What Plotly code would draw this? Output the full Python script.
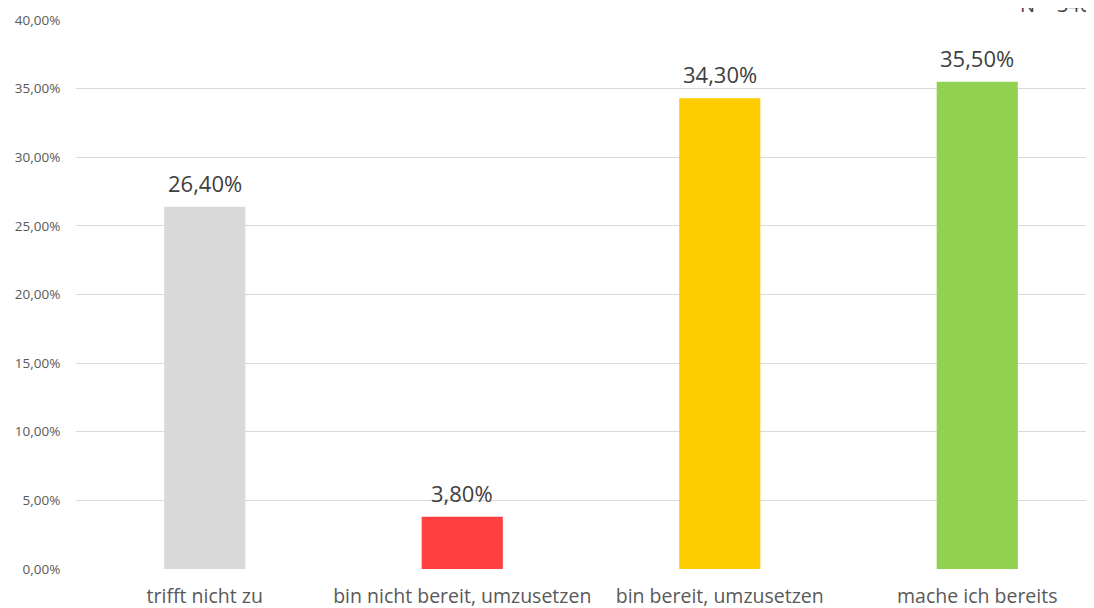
import plotly.graph_objects as go

categories = ["trifft nicht zu", "bin nicht bereit, umzusetzen", "bin bereit, umzusetzen", "mache ich bereits"]
values = [26.40, 3.80, 34.30, 35.50]
colors = ["#D9D9D9", "#FF4040", "#FFCC00", "#92D050"]
tick_vals = [0, 5, 10, 15, 20, 25, 30, 35, 40]
tick_text = ["0,00%", "5,00%", "10,00%", "15,00%", "20,00%", "25,00%", "30,00%", "35,00%", "40,00%"]
label_text = [f"{v:.2f}%".replace(".", ",") for v in values]
note_text = "N = 346"

FONT = "Open Sans, Liberation Sans, sans-serif"
xpos = list(range(len(categories)))

fig = go.Figure()
fig.add_trace(go.Bar(
    x=xpos,
    y=values,
    marker=dict(color=colors, line=dict(width=0)),
    width=0.315,
    hoverinfo="skip",
))

annotations = [
    dict(
        x=xi, y=v, xref="x", yref="y", text=t,
        showarrow=False, xanchor="center", yanchor="middle", yshift=24,
        font=dict(size=22, color="#404040", family=FONT),
    )
    for xi, v, t in zip(xpos, values, label_text)
]
annotations.append(dict(
    text=note_text,
    xref="paper", yref="paper",
    x=1.0, y=1.0,
    xanchor="left", yanchor="bottom",
    xshift=-76, yshift=0,
    showarrow=False,
    font=dict(size=20, color="#404040", family=FONT),
))

fig.update_layout(
    width=1086,
    height=600,
    margin=dict(l=68, r=0, t=12, b=39, pad=0),
    paper_bgcolor="white",
    plot_bgcolor="white",
    showlegend=False,
    font=dict(family=FONT, color="#595959"),
    xaxis=dict(
        range=[-0.5, 3.4534],
        tickmode="array",
        tickvals=xpos,
        ticktext=categories,
        tickfont=dict(size=19.5, color="#595959", family=FONT),
        showgrid=False,
        zeroline=False,
        showline=False,
        ticks="outside",
        ticklen=10,
        tickcolor="rgba(0,0,0,0)",
        automargin=False,
    ),
    yaxis=dict(
        range=[0, 40],
        tickmode="array",
        tickvals=tick_vals,
        ticktext=tick_text,
        tickfont=dict(size=13.5, color="#595959", family=FONT),
        showgrid=True,
        gridcolor="#D9D9D9",
        gridwidth=1.3,
        zeroline=False,
        showline=False,
        ticks="outside",
        ticklen=12,
        tickcolor="rgba(0,0,0,0)",
        automargin=False,
    ),
    annotations=annotations,
)

fig.write_html("out.html")
